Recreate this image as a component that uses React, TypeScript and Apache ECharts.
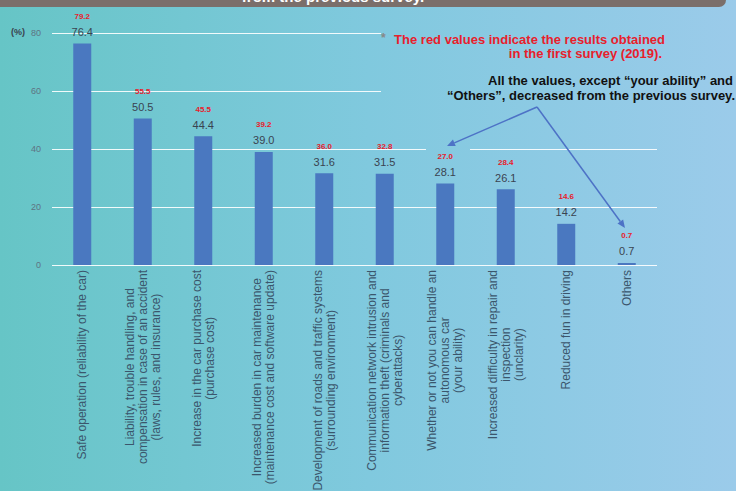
import React, { useEffect, useRef } from "react";
import * as echarts from "echarts";

const categories: string[] = [
  "Safe operation (reliability of the car)",
  "Liability, trouble handling, and\ncompensation in case of an accident\n(laws, rules, and insurance)",
  "Increase in the car purchase cost\n(purchase cost)",
  "Increased burden in car maintenance\n(maintenance cost and software update)",
  "Development of roads and traffic systems\n(surrounding environment)",
  "Communication network intrusion and\ninformation theft (criminals and\ncyberattacks)",
  "Whether or not you can handle an\nautonomous car\n(your ability)",
  "Increased difficulty in repair and\ninspection\n(unclarity)",
  "Reduced fun in driving",
  "Others",
];
const currentValues: number[] = [76.4, 50.5, 44.4, 39.0, 31.6, 31.5, 28.1, 26.1, 14.2, 0.7];
const firstSurveyValues: number[] = [79.2, 55.5, 45.5, 39.2, 36.0, 32.8, 27.0, 28.4, 14.6, 0.7];
const yTicks = { min: 0, max: 80, interval: 20 };

const FONT = "'Liberation Sans', Arial, sans-serif";

function bgGradient() {
  return new echarts.graphic.LinearGradient(
    0, 0, 736, 0,
    [
      { offset: 0, color: "#66c5c6" },
      { offset: 0.5, color: "#80c9de" },
      { offset: 1, color: "#9bcbea" },
    ],
    true
  );
}

function arrow(x1: number, y1: number, x2: number, y2: number, color: string) {
  const ang = Math.atan2(y2 - y1, x2 - x1);
  const L = 8, W = 3.5;
  const bx = x2 - L * Math.cos(ang), by = y2 - L * Math.sin(ang);
  const px = -Math.sin(ang) * W, py = Math.cos(ang) * W;
  return [
    { type: "line", z: 20, shape: { x1, y1, x2: bx, y2: by }, style: { stroke: color, lineWidth: 1.5 } },
    { type: "polygon", z: 20, shape: { points: [[x2, y2], [bx + px, by + py], [bx - px, by - py]] }, style: { fill: color } },
  ];
}

export default function App() {
  const ref = useRef<HTMLDivElement>(null);
  useEffect(() => {
    if (!ref.current) return;
    const chart = echarts.init(ref.current, null, { renderer: "svg" });
    const arrowColor = "#4d72c6";
    chart.setOption({
      animation: false,
      textStyle: { fontFamily: FONT },
      grid: { left: 52, right: 79, top: 33, bottom: 226, containLabel: false, outerBoundsMode: "none" },
      xAxis: {
        type: "category",
        data: categories,
        axisLine: { show: false },
        axisTick: { show: false },
        axisLabel: {
          interval: 0,
          rotate: 90,
          margin: 5,
          formatter: (v: string) => v.split("\n").map((l) => `{c|${l}}`).join("\n"),
          rich: {
            c: { align: "center", fontSize: 12, lineHeight: 13, color: "#3b566c", fontFamily: FONT },
          },
        },
      },
      yAxis: {
        type: "value",
        min: yTicks.min,
        max: yTicks.max,
        interval: yTicks.interval,
        axisLine: { show: false },
        axisTick: { show: false },
        axisLabel: { color: "#5e7383", fontSize: 9, margin: 11 },
        splitLine: { lineStyle: { color: "rgba(255,255,255,0.9)", width: 1 } },
      },
      series: [
        {
          type: "bar",
          data: currentValues,
          barWidth: 18,
          itemStyle: { color: "#4a78c0" },
          z: 3,
          label: {
            show: true,
            position: "top",
            distance: 6,
            fontSize: 11,
            color: "#3a4350",
            formatter: (p: any) => p.value.toFixed(1),
          },
        },
        {
          type: "bar",
          data: currentValues,
          barWidth: 18,
          barGap: "-100%",
          itemStyle: { color: "rgba(0,0,0,0)" },
          z: 4,
          label: {
            show: true,
            position: "top",
            distance: 23,
            fontSize: 8,
            fontWeight: "bold",
            color: "#e8202c",
            formatter: (p: any) => firstSurveyValues[p.dataIndex].toFixed(1),
          },
        },
      ],
      graphic: [
        { type: "rect", z: -10, silent: true, shape: { x: 0, y: 0, width: 736, height: 491 }, style: { fill: bgGradient() } },
        { type: "rect", z: 1, silent: true, shape: { x: 381, y: 20, width: 355, height: 86 }, style: { fill: bgGradient() } },
        { type: "rect", z: 1, silent: true, shape: { x: 426, y: 144, width: 44, height: 10 }, style: { fill: bgGradient() } },
        { type: "rect", z: 5, silent: true, shape: { x: -10, y: -12, width: 736, height: 19, r: 7 }, style: { fill: "#7b6f6b" } },
        {
          type: "text", z: 6, silent: true, x: 333, y: 4,
          style: { text: "from the previous survey.", fill: "#ffffff", font: `bold 15px ${FONT}`, textAlign: "center", textVerticalAlign: "bottom" },
        },
        {
          type: "text", z: 6, silent: true, x: 11, y: 32,
          style: { text: "(%)", fill: "#3a4450", font: `bold 9px ${FONT}`, textVerticalAlign: "middle" },
        },
        {
          type: "text", z: 6, silent: true, x: 381, y: 38,
          style: { text: "*", fill: "#888888", font: `bold 12px ${FONT}`, textVerticalAlign: "middle" },
        },
        {
          type: "text", z: 6, silent: true, x: 665, y: 39,
          style: { text: "The red values indicate the results obtained", fill: "#e8202c", font: `bold 13px ${FONT}`, textAlign: "right", textVerticalAlign: "middle" },
        },
        {
          type: "text", z: 6, silent: true, x: 662, y: 53,
          style: { text: "in the first survey (2019).", fill: "#e8202c", font: `bold 13px ${FONT}`, textAlign: "right", textVerticalAlign: "middle" },
        },
        {
          type: "text", z: 6, silent: true, x: 733, y: 80,
          style: { text: "All the values, except \u201cyour ability\u201d and", fill: "#111111", font: `bold 13px ${FONT}`, textAlign: "right", textVerticalAlign: "middle" },
        },
        {
          type: "text", z: 6, silent: true, x: 735, y: 95,
          style: { text: "\u201cOthers\u201d, decreased from the previous survey.", fill: "#111111", font: `bold 13px ${FONT}`, textAlign: "right", textVerticalAlign: "middle" },
        },
        ...arrow(537, 107, 447, 146, arrowColor),
        ...arrow(537, 107, 625, 228, arrowColor),
      ],
    });
    return () => chart.dispose();
  }, []);
  return <div ref={ref} style={{ position: "absolute", left: 0, top: 0, width: 736, height: 491 }} />;
}
